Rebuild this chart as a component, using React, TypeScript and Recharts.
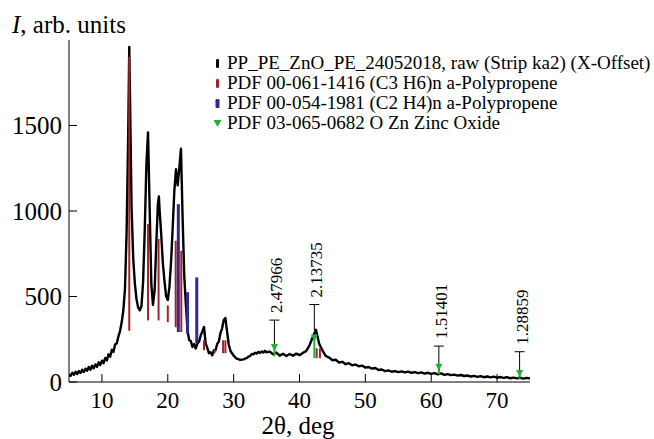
import React from 'react';
import { ComposedChart, Line, XAxis, YAxis, ReferenceLine, ReferenceDot } from 'recharts';

const FONT = '"Liberation Serif", "Times New Roman", serif';

// raw pattern: [2theta, intensity]
const pattern: [number, number][] = [
  [5.0, 45], [5.25, 36], [5.5, 54], [5.75, 42], [6.0, 60], [6.25, 47], [6.5, 64], [6.75, 53],
  [7.0, 72], [7.25, 58], [7.5, 78], [7.75, 66], [8.0, 88], [8.25, 72], [8.5, 95], [8.75, 80],
  [9.0, 103], [9.25, 88], [9.5, 115], [9.75, 99], [10.0, 125], [10.25, 110], [10.5, 141], [10.75, 126],
  [11.0, 162], [11.25, 148], [11.5, 189], [11.75, 176], [12.0, 219], [12.25, 226], [12.5, 266], [12.75, 298],
  [13.0, 349], [13.25, 418], [13.5, 544], [13.75, 878], [14.0, 1480], [14.15, 1960], [14.25, 1700], [14.5, 1020],
  [14.75, 724], [15.0, 576], [15.25, 484], [15.5, 436], [15.75, 419], [16.0, 441], [16.25, 584], [16.5, 886],
  [16.75, 1270], [17.0, 1460], [17.25, 1010], [17.5, 574], [17.75, 451], [18.0, 534], [18.25, 806], [18.5, 1040],
  [18.65, 1085], [18.75, 1010], [19.0, 864], [19.25, 696], [19.5, 589], [19.75, 501], [20.0, 479], [20.25, 556],
  [20.5, 704], [20.75, 906], [21.0, 1120], [21.25, 1245], [21.5, 1150], [21.75, 1250], [22.0, 1365], [22.25, 960],
  [22.5, 620], [22.75, 450], [23.0, 300], [23.25, 245], [23.5, 240], [23.75, 205], [24.0, 222], [24.25, 196],
  [24.5, 226], [24.75, 236], [25.0, 272], [25.25, 296], [25.5, 322], [25.75, 226], [26.0, 200], [26.25, 168],
  [26.5, 174], [26.75, 156], [27.0, 186], [27.25, 186], [27.5, 222], [27.75, 236], [28.0, 286], [28.25, 314],
  [28.5, 362], [28.75, 374], [29.0, 296], [29.25, 221], [29.5, 184], [29.75, 168], [30.0, 154], [30.25, 144],
  [30.5, 136], [30.75, 134], [31.0, 129], [31.25, 131], [31.5, 132], [31.75, 138], [32.0, 140], [32.25, 148],
  [32.5, 152], [32.75, 164], [33.0, 162], [33.25, 171], [33.5, 166], [33.75, 176], [34.0, 170], [34.25, 178],
  [34.5, 172], [34.75, 182], [35.0, 174], [35.5, 178], [36.0, 162], [36.5, 172], [37.0, 154], [37.5, 165],
  [38.0, 152], [38.5, 164], [39.0, 154], [39.5, 166], [40.0, 157], [40.5, 170], [41.0, 180], [41.5, 213],
  [42.0, 262], [42.5, 305], [43.0, 222], [43.5, 184], [44.0, 152], [44.5, 143], [45.0, 127], [45.5, 130],
  [46.0, 114], [46.5, 118], [47.0, 104], [47.5, 110], [48.0, 98], [48.5, 102], [49.0, 92], [49.5, 96],
  [50.0, 84], [50.5, 88], [51.0, 78], [51.5, 82], [52.0, 70], [52.5, 73], [53.0, 64], [53.5, 68],
  [54.0, 60], [54.5, 64], [55.0, 58], [55.5, 62], [56.0, 56], [56.5, 61], [57.0, 54], [57.5, 58],
  [58.0, 52], [58.5, 56], [59.0, 49], [59.5, 54], [60.0, 47], [60.5, 52], [61.0, 45], [61.5, 50],
  [62.0, 42], [62.5, 46], [63.0, 40], [63.5, 43], [64.0, 37], [64.5, 41], [65.0, 35], [65.5, 38],
  [66.0, 32], [66.5, 36], [67.0, 30], [67.5, 34], [68.0, 28], [68.5, 32], [69.0, 27], [69.5, 31],
  [70.0, 25], [70.5, 29], [71.0, 24], [71.5, 28], [72.0, 22], [72.5, 26], [73.0, 21], [73.5, 25],
  [74.0, 20], [74.5, 24], [75.0, 20],
];

const xTicks = [10, 20, 30, 40, 50, 60, 70];
const yTicks = [0, 500, 1000, 1500];

// reference sticks: [2theta, from, to]
const ppSticks: [number, number, number][] = [
  [14.15, 300, 1900], [17.0, 360, 924], [18.6, 360, 837], [20.0, 350, 448], [21.2, 320, 826],
  [22.05, 292, 767], [25.5, 186, 244], [27.1, 168, 190], [28.4, 168, 244], [28.75, 168, 244],
  [42.6, 139, 197], [43.1, 139, 197],
];
const peSticks: [number, number, number][] = [
  [21.6, 292, 1040], [23.0, 284, 525], [24.4, 227, 612],
];
const znoSticks: [number, number, number][] = [
  [36.19, 150, 205], [42.25, 140, 260], [61.16, 45, 89], [73.42, 20, 52],
];

// d-spacing labels: [2theta, text, stem bottom, stem top]
const dLabels: [number, string, number, number][] = [
  [36.19, '2.47966', 206, 362],
  [42.25, '2.13735', 300, 453],
  [61.16, '1.51401', 70, 210],
  [73.42, '1.28859', 30, 177],
];

const legendNames = [
  'PP_PE_ZnO_PE_24052018, raw (Strip ka2) (X-Offset)',
  'PDF 00-061-1416 (C3 H6)n a-Polypropene',
  'PDF 00-054-1981 (C2 H4)n a-Polypropene',
  'PDF 03-065-0682 O Zn Zinc Oxide',
];
const legendColors = ['#000000', '#a3222a', '#2e2a8f', '#22b03a'];

const data = pattern.map(([t, I]) => ({ t, I }));

const XTick = (props: any) => {
  const { x, y, payload } = props;
  return (
    <g>
      <line x1={x} y1={y} x2={x} y2={y - 8} stroke="#000" />
      <text x={x} y={y + 26} textAnchor="middle" fontSize={23} fontFamily={FONT} fill="#000">
        {payload.value}
      </text>
    </g>
  );
};

const YTick = (props: any) => {
  const { x, y, payload } = props;
  return (
    <g>
      <line x1={x} y1={y} x2={x + 8} y2={y} stroke="#000" />
      <text x={x - 7} y={y} dy="0.34em" textAnchor="end" fontSize={25} fontFamily={FONT} fill="#000">
        {payload.value}
      </text>
    </g>
  );
};

const DMark = (props: any) => {
  const { cx, cy, text } = props;
  return (
    <g>
      <line x1={cx - 5} y1={cy} x2={cx + 5} y2={cy} stroke="#000" />
      <text
        x={cx + 8}
        y={cy - 7}
        transform={`rotate(-90 ${cx + 8} ${cy - 7})`}
        fontSize={17}
        fontFamily={FONT}
        fill="#000"
      >
        {text}
      </text>
    </g>
  );
};

const Tri = (props: any) => {
  const { cx, cy } = props;
  return <path d={`M${cx - 3.5},${cy - 3} L${cx + 3.5},${cy - 3} L${cx},${cy + 4} Z`} fill="#22b03a" />;
};

const LegendBox = () => (
  <div style={{ position: 'absolute', left: 212, top: 53, fontFamily: FONT, fontSize: 19, color: '#000' }}>
    {legendNames.map((name, i) => (
      <div key={name} style={{ height: 20, lineHeight: '20px', display: 'flex', alignItems: 'center', whiteSpace: 'nowrap' }}>
        <svg width={12} height={12} style={{ marginRight: 3 }}>
          {i === 3 ? (
            <path d="M1.5,3 L9.5,3 L5.5,10 Z" fill={legendColors[i]} />
          ) : (
            <rect x={i === 2 ? 3.5 : 4} y={2} width={i === 2 ? 4 : 3} height={9} rx={1.2} fill={legendColors[i]} />
          )}
        </svg>
        <span>{name}</span>
      </div>
    ))}
  </div>
);

export default function App() {
  return (
    <div style={{ position: 'absolute', left: 0, top: 0, width: 654, height: 439, background: '#fff' }}>
      <ComposedChart width={654} height={439} data={data} margin={{ top: 40, right: 124, bottom: 0, left: 0 }}>
        <XAxis
          dataKey="t"
          type="number"
          domain={[5, 75]}
          ticks={xTicks}
          height={57}
          tickSize={0}
          tickMargin={0}
          tickLine={false}
          tick={<XTick />}
          axisLine={{ stroke: '#000' }}
          allowDataOverflow
        />
        <YAxis
          type="number"
          domain={[0, 2000]}
          ticks={yTicks}
          width={69}
          tickSize={0}
          tickMargin={0}
          tickLine={false}
          tick={<YTick />}
          axisLine={{ stroke: '#000' }}
          allowDataOverflow
        />
        <Line
          type="linear"
          dataKey="I"
          stroke="#000"
          strokeWidth={2.4}
          strokeLinejoin="round"
          dot={false}
          isAnimationActive={false}
        />
        {ppSticks.map(([t, lo, hi]) => (
          <ReferenceLine key={`pp${t}`} segment={[{ x: t, y: lo }, { x: t, y: hi }]} stroke="#a3222a" strokeWidth={2} />
        ))}
        {peSticks.map(([t, lo, hi]) => (
          <ReferenceLine key={`pe${t}`} segment={[{ x: t, y: lo }, { x: t, y: hi }]} stroke="#2e2a8f" strokeWidth={3} />
        ))}
        {znoSticks.map(([t, lo, hi]) => (
          <ReferenceLine key={`zn${t}`} segment={[{ x: t, y: lo }, { x: t, y: hi }]} stroke="#22b03a" strokeWidth={2} />
        ))}
        {znoSticks.map(([t, , hi]) => (
          <ReferenceDot key={`zt${t}`} x={t} y={hi} r={4} shape={<Tri />} />
        ))}
        {dLabels.map(([t, , lo, hi]) => (
          <ReferenceLine key={`ds${t}`} segment={[{ x: t, y: lo }, { x: t, y: hi }]} stroke="#000" strokeWidth={1} />
        ))}
        {dLabels.map(([t, text, , hi]) => (
          <ReferenceDot key={`dl${t}`} x={t} y={hi} r={1} shape={(p: any) => <DMark {...p} text={text} />} />
        ))}
      </ComposedChart>
      <div style={{ position: 'absolute', left: 12, top: 12, fontFamily: FONT, fontSize: 25, lineHeight: '25px', whiteSpace: 'nowrap' }}>
        <i>I</i>, arb. units
      </div>
      <div style={{ position: 'absolute', left: 198, width: 200, top: 413, textAlign: 'center', fontFamily: FONT, fontSize: 25, lineHeight: '25px' }}>
        2θ, deg
      </div>
      <LegendBox />
    </div>
  );
}
